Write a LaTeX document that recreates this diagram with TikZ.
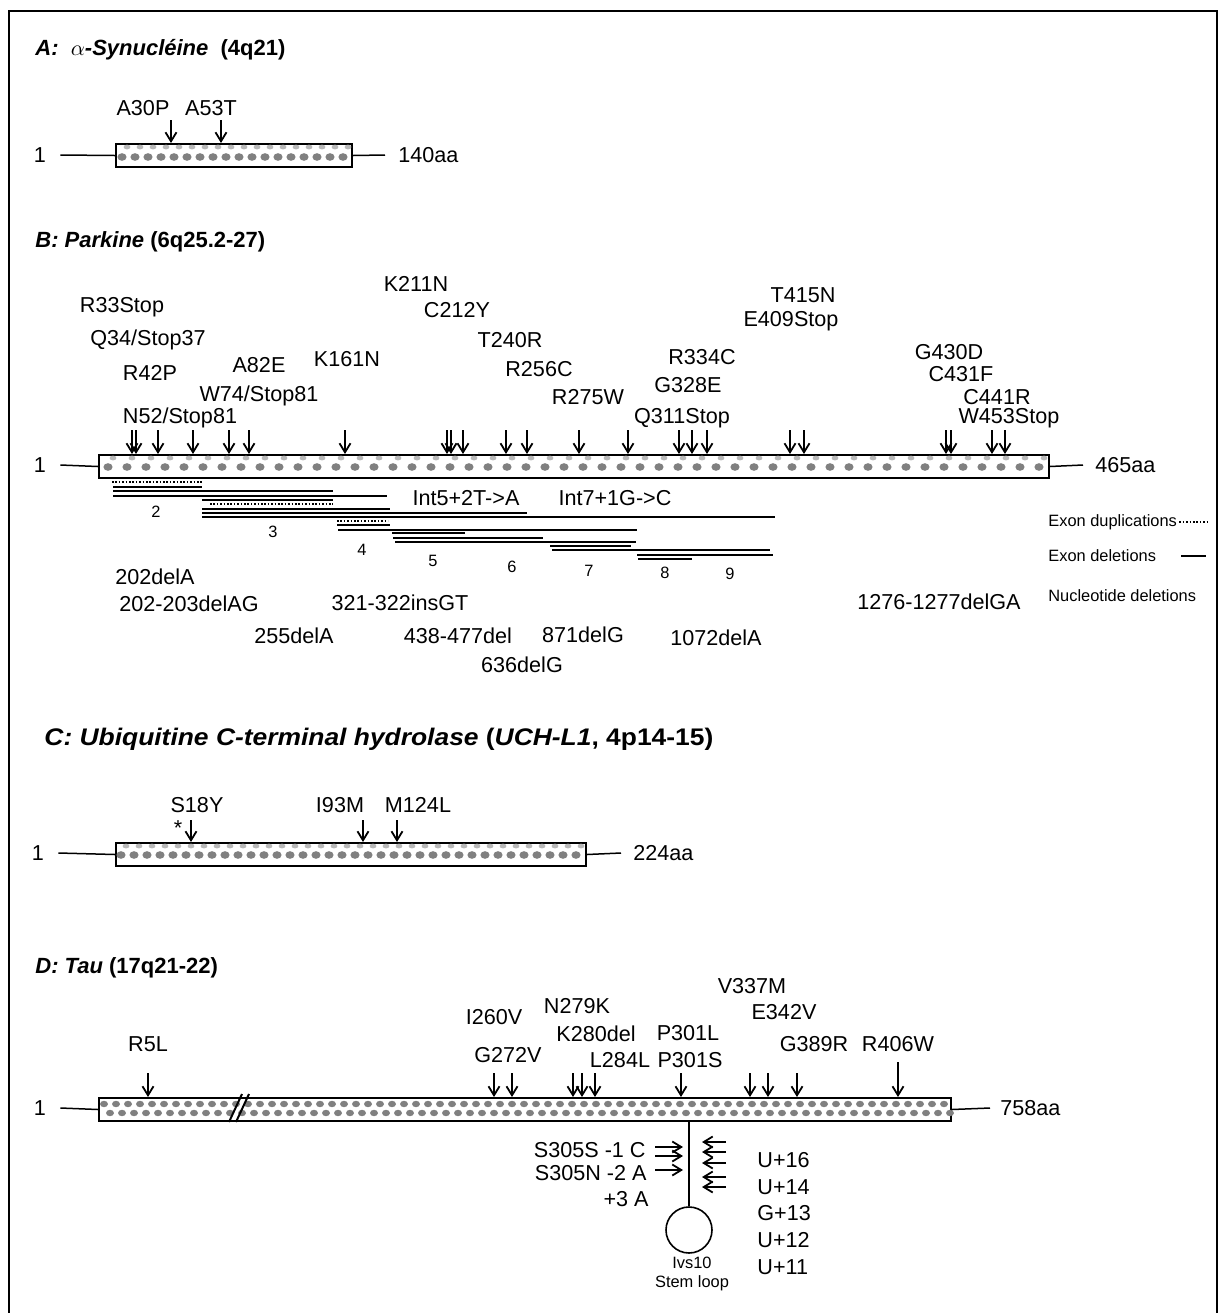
\documentclass[tikz,border=0pt]{standalone}
\usepackage{fontspec}
\setmainfont{Liberation Sans}
\usetikzlibrary{arrows.meta, positioning, calc}

\definecolor{speck}{gray}{0.5}

\tikzset{
  mut/.style={font=\fontsize{10.8}{13}\selectfont, inner sep=0pt},
  ttl/.style={font=\fontsize{11}{13}\selectfont\bfseries\itshape, anchor=west, inner sep=0pt},
  tiny/.style={font=\fontsize{8.2}{10}\selectfont, inner sep=0pt},
  hit/.style={-{Straight Barb[length=4.5pt,width=5.5pt,line width=0.9pt]}, line width=0.9pt},
  pbar/.style={draw, line width=1pt, fill=white, inner sep=0pt, anchor=north west, minimum height=11.5pt},
  stub/.style={line width=0.75pt},
  del/.style={line width=1.1pt},
  dup/.style={line width=1.3pt, dash pattern=on 0.8pt off 0.9pt},
  frame/.style={line width=0.7pt}
}

% row of grey specks inside a protein bar
\newcommand{\speckle}[5]{%
  \foreach \sx in {#1,#2,...,#3} {
    \fill[speck] (\sx,#4) ellipse (2.3pt and 1.9pt);
    \fill[speck!55] (\sx+5,#5) ellipse (1.7pt and 1.2pt);
  }}

\begin{document}
\begin{tikzpicture}[x=0.5pt, y=-0.5pt]
\useasboundingbox (0,0) rectangle (1223,1313);
\draw[frame] (9,1313) -- (9,11) -- (1217,11) -- (1217,1313);

% ---- A: alpha-synuclein
\node[ttl] (ttlA) at (35,50) {A:\ \ $\alpha$-Synucléine\ \ \upshape(4q21)};
\node[pbar, minimum width=118pt] (barA) at (115,143) {};
\speckle{122}{135}{344}{157}{147}
\node[mut] (oneA) at (40,155) {1};
\node[mut, anchor=west] (endA) at (398,155) {140aa};
\draw[stub] ([xshift=7pt]oneA.east) -- (barA.west);
\draw[stub] (barA.east) -- ([xshift=-6.5pt]endA.west);
\foreach \x/\n in {171/a30, 221/a53} {
  \coordinate (\n) at (\x,120);
  \draw[hit] (\n) -- (\n |- barA.north);
}
\node[mut] (la30) at (143,108) {A30P};
\node[mut] (la53) at (211,108) {A53T};

% ---- B: parkin
\node[ttl] (ttlB) at (35,242) {B: Parkine \upshape(6q25.2-27)};
\node[pbar, minimum width=475pt] (barB) at (98,454) {};
\speckle{108}{127}{1040}{467}{458}
\node[mut] (oneB) at (40,465) {1};
\node[mut, anchor=west] (endB) at (1095,465) {465aa};
\draw[stub] ([xshift=7pt]oneB.east) -- (barB.west);
\draw[stub] (barB.east) -- ([xshift=-6pt]endB.west);
\foreach \x in {132,136,158,193,229,249,345,447,451,463,506,527,579,628,679,692,707,790,804,946,951,992,1005} {
  \coordinate (pk\x) at (\x,430);
  \draw[hit] (pk\x) -- (pk\x |- barB.north);
}
\node[mut] (r33) at (122,307) {R33Stop};
\node[mut] (q34) at (148,340) {Q34/Stop37};
\node[mut] (r42) at (150,373) {R42P};
\node[mut] (a82) at (259,365) {A82E};
\node[mut] (k161) at (347,359) {K161N};
\node[mut] (w74) at (259,396) {W74/Stop81};
\node[mut] (n52) at (180,418) {N52/Stop81};
\node[mut] (k211) at (416,284) {K211N};
\node[mut] (c212) at (457,310) {C212Y};
\node[mut] (t240) at (510,340) {T240R};
\node[mut] (r256) at (539,369) {R256C};
\node[mut] (r275) at (588,397) {R275W};
\node[mut] (r334) at (702,357) {R334C};
\node[mut] (g328) at (688,385) {G328E};
\node[mut] (q311) at (682,418) {Q311Stop};
\node[mut] (t415) at (803,295) {T415N};
\node[mut] (e409) at (791,321) {E409Stop};
\node[mut] (g430) at (949,352) {G430D};
\node[mut] (c431) at (961,374) {C431F};
\node[mut] (c441) at (997,397) {C441R};
\node[mut] (w453) at (1009,418) {W453Stop};

% exon deletions / duplications
\foreach \xa/\xb/\yy in {113/202/487, 113/333/491, 113/387/496, 202/333/500, 202/390/509,
  202/527/513, 202/775/517, 337/390/525, 338/637/530, 392/465/533, 393/543/538,
  395/636/542, 550/631/546, 552/770/550, 637/773/555, 638/692/559}
  \draw[del] (\xa,\yy) -- (\xb,\yy);
\foreach \xa/\xb/\yy in {112/202/482, 210/333/504, 337/388/521}
  \draw[dup] (\xa,\yy) -- (\xb,\yy);
\foreach \x/\y/\e in {156/512/2, 273/532/3, 362/550/4, 433/561/5, 512/567/6, 589/571/7, 665/573/8, 730/574/9}
  \node[tiny] (ex\e) at (\x,\y) {\e};
\node[mut] (int5) at (466,498) {Int5+2T->A};
\node[mut] (int7) at (615,498) {Int7+1G->C};

% nucleotide deletions
\node[mut] (d202) at (155,577) {202delA};
\node[mut] (d203) at (189,604) {202-203delAG};
\node[mut] (d255) at (294,636) {255delA};
\node[mut] (i321) at (400,603) {321-322insGT};
\node[mut] (d438) at (458,636) {438-477del};
\node[mut] (d636) at (522,665) {636delG};
\node[mut] (d871) at (583,635) {871delG};
\node[mut] (d1072) at (716,638) {1072delA};
\node[mut] (d1276) at (939,602) {1276-1277delGA};

% legend
\node[tiny, anchor=west] (lgdup) at (1048,522) {Exon duplications};
\node[tiny, anchor=west] (lgdel) at (1048,556) {Exon deletions};
\node[tiny, anchor=west] (lgnuc) at (1048,596) {Nucleotide deletions};
\draw[dup] ([xshift=1pt]lgdup.east) -- ++(29,0);
\draw[del] ([xshift=12.5pt]lgdel.east) -- ++(25,0);

% ---- C: UCH-L1
\node[ttl, font=\fontsize{12}{14}\selectfont\bfseries\itshape, xscale=1.1] (ttlC) at (44,739)
  {C: Ubiquitine C-terminal hydrolase \upshape(\itshape UCH-L1\upshape, 4p14-15)};
\node[pbar, minimum width=235pt] (barC) at (115,842) {};
\speckle{121}{134}{578}{855}{846}
\node[mut] (oneC) at (38,853) {1};
\node[mut, anchor=west] (endC) at (633,853) {224aa};
\draw[stub] ([xshift=7pt]oneC.east) -- (barC.west);
\draw[stub] (barC.east) -- ([xshift=-6pt]endC.west);
\foreach \x/\n in {191/s18, 363/i93, 397/m124} {
  \coordinate (\n) at (\x,820);
  \draw[hit] (\n) -- (\n |- barC.north);
}
\node[mut] (ls18) at (197,805) {S18Y};
\node[mut] (li93) at (340,805) {I93M};
\node[mut] (lm124) at (418,805) {M124L};
\node[mut] (star) at (178,828) {*};

% ---- D: tau
\node[ttl] (ttlD) at (35,968) {D: Tau \upshape(17q21-22)};
\node[pbar, minimum width=426pt] (barD) at (98,1097) {};
\foreach \sx in {104,116,...,944} {
  \fill[speck] (\sx,1104) ellipse (2pt and 1.6pt);
  \fill[speck] (\sx+6,1113) ellipse (2pt and 1.6pt);
}
\draw[line width=1pt] (229,1122) -- (242,1094) (236,1122) -- (249,1094);
\node[mut] (oneD) at (40,1108) {1};
\node[mut, anchor=west] (endD) at (1000,1108) {758aa};
\draw[stub] ([xshift=7pt]oneD.east) -- (barD.west);
\draw[stub] (barD.east) -- ([xshift=-5pt]endD.west);
\foreach \x in {148,494,512,573,582,595,681,750,768,797} {
  \coordinate (tau\x) at (\x,1073);
  \draw[hit] (tau\x) -- (tau\x |- barD.north);
}
\coordinate (tau898) at (898,1062);
\draw[hit] (tau898) -- (tau898 |- barD.north);
\node[mut] (r5) at (148,1044) {R5L};
\node[mut] (i260) at (494,1017) {I260V};
\node[mut] (g272) at (508,1055) {G272V};
\node[mut] (n279) at (577,1006) {N279K};
\node[mut] (k280) at (596,1034) {K280del};
\node[mut] (l284) at (620,1060) {L284L};
\node[mut] (p301l) at (688,1033) {P301L};
\node[mut] (p301s) at (690,1060) {P301S};
\node[mut] (v337) at (752,986) {V337M};
\node[mut] (e342) at (784,1012) {E342V};
\node[mut] (g389) at (814,1044) {G389R};
\node[mut] (r406) at (898,1044) {R406W};

% stem loop of intron 10
\node[draw, circle, line width=0.8pt, minimum size=23pt, inner sep=0pt] (loop) at (689,1230) {};
\draw[stub] (loop.north |- barD.south) -- (loop.north);
\foreach \y [count=\i] in {1147,1156,1170} {
  \coordinate (sl\i) at (655,\y);
  \draw[hit] (sl\i) -- ($(loop.north |- sl\i)+(-3pt,0)$);
}
\foreach \y [count=\i] in {1142,1152,1163,1177,1187} {
  \coordinate (sr\i) at (726,\y);
  \draw[hit] (sr\i) -- ($(loop.north |- sr\i)+(6.5pt,0)$);
}
\node[mut, anchor=east] (s305s) at (646,1150) {S305S -1 C};
\node[mut, anchor=east] (s305n) at (647,1173) {S305N -2 A};
\node[mut, anchor=east] (p3a) at (649,1199) {+3 A};
\foreach \y/\t/\n in {1160/U+16/u16, 1187/U+14/u14, 1213/G+13/g13, 1240/U+12/u12, 1267/U+11/u11}
  \node[mut, anchor=west] (\n) at (757,\y) {\t};
\node[tiny] (ivs) at (692,1263) {Ivs10};
\node[tiny] (stl) at (692,1283) {Stem loop};
\end{tikzpicture}
\end{document}
